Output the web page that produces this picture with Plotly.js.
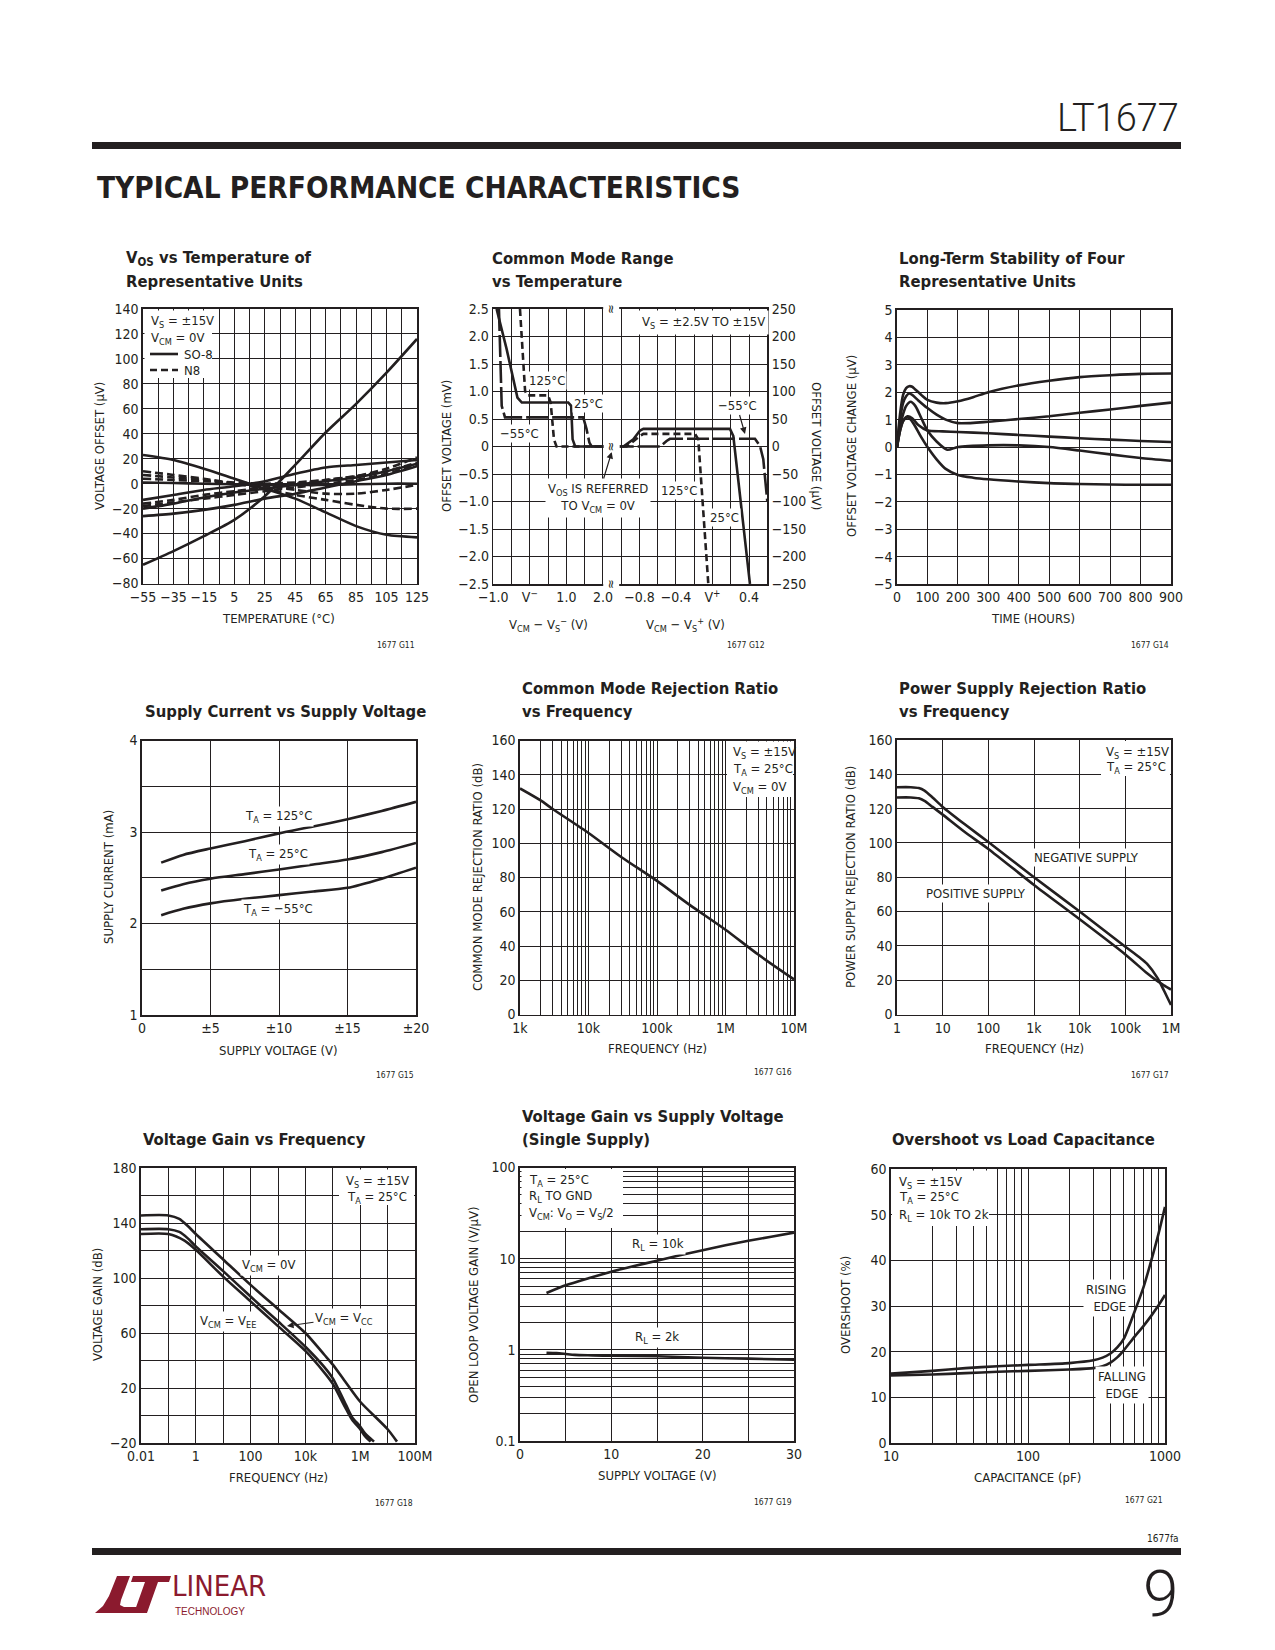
<!DOCTYPE html>
<html>
<head>
<meta charset="utf-8">
<script src="https://cdn.plot.ly/plotly-3.0.1.min.js"></script>
<style>html,body{margin:0;padding:0;background:#fff;}#page{width:1275px;height:1650px;}</style>
</head>
<body>
<div id="page"></div>
<script>
// ---------------- DATA ----------------
// Chart 1: VOS vs temperature (°C, µV)
const c1Temp = [-55,-35,-15,5,25,45,65,85,105,125];
const c1SO8_1 = [-65,-54,-42,-29,-10,15,41,64,89,116];
const c1SO8_2 = [23,19,12,4,-4,-12,-23,-34,-41,-43];
const c1SO8_3 = [-13,-9,-5,-2,2,8,13,15,17,19];
const c1SO8_4 = [-20,-16,-11,-7,-4,-1,2,5,10,16];
const c1SO8_5 = [-26,-24,-21,-17,-12,-8,-3,2,7,14];
const c1SO8_6 = [1,0.5,0,-0.5,-1,-1,-1,-0.5,0,0];
const c1N8_1 = [10,7,4,0,-4,-9,-13,-17,-20,-20];
const c1N8_2 = [7,5,3,0,-2,-5,-8,-8,-5,-1];
const c1N8_3 = [4,3,2,1,0,1,3,6,12,21];
const c1N8_4 = [-16,-13,-9,-6,-3,0,3,6,10,17];
const c1N8_5 = [-18,-15,-12,-9,-6,-3,0,3,8,15];
const c1XTicks = [-55,-35,-15,5,25,45,65,85,105,125];
const c1XText = ['−55','−35','−15','5','25','45','65','85','105','125'];
const c1YTicks = [-80,-60,-40,-20,0,20,40,60,80,100,120,140];
const c1YText = ['−80','−60','−40','−20','0','20','40','60','80','100','120','140'];

// Chart 2: common mode range (V, mV)
const c2L_125x = [-0.27,-0.13,-0.07,0.50,0.57,0.66,0.73,2.24];
const c2L_125y = [2.5,1.01,0.93,0.93,0.80,0.13,0,0];
const c2L_25x = [-0.91,-0.635,-0.34,-0.22,1.05,1.13,1.17,1.24,2.24];
const c2L_25y = [2.5,1.77,0.89,0.80,0.80,0.74,0.13,0,0];
const c2L_m55x = [-0.845,-0.77,-0.68,1.46,1.55,1.63,1.69,2.24];
const c2L_m55y = [2.5,0.74,0.53,0.53,0.32,0.07,0,0];
const c2R_25x = [-1.104,-0.976,-0.867,-0.794,-0.757,0.191,0.228,0.41];
const c2R_25y = [0,0,0.13,0.29,0.32,0.32,0.19,-2.5];
const c2R_125x = [-1.104,-0.94,-0.794,-0.757,-0.192,-0.156,-0.046];
const c2R_125y = [0,0,0.19,0.23,0.23,0.13,-2.5];
const c2R_m55x = [-1.104,-0.575,-0.503,-0.467,0.465,0.52,0.556,0.6];
const c2R_m55y = [0,0,0.10,0.14,0.14,0.01,-0.23,-1.0];
const c2YTicks = [-2.5,-2,-1.5,-1,-0.5,0,0.5,1,1.5,2,2.5];
const c2YText = ['−2.5','−2.0','−1.5','−1.0','−0.5','0','0.5','1.0','1.5','2.0','2.5'];
const c2Y2Text = ['−250','−200','−150','−100','−50','0','50','100','150','200','250'];
const c2XLTicks = [-1,0,1,2];
const c2XLText = ['−1.0','V<sup>−</sup>','1.0','2.0'];
const c2XRTicks = [-0.8,-0.4,0,0.4];
const c2XRText = ['−0.8','−0.4','V<sup>+</sup>','0.4'];

// Chart 3: long-term stability (hours, µV)
const c3T1 = [0,10,20,30,40,50,60,80,100,130,160,200,250,300,400,500,600,700,800,900];
const c3V1 = [0,1.2,1.9,2.15,2.22,2.2,2.1,1.9,1.72,1.62,1.6,1.67,1.82,2.0,2.25,2.42,2.55,2.62,2.67,2.68];
const c3T2 = [0,10,20,30,40,50,70,100,130,160,200,300,400,500,600,700,800,900];
const c3V2 = [0,1.0,1.6,1.85,1.95,1.9,1.7,1.42,1.18,1.0,0.87,0.92,1.02,1.12,1.25,1.37,1.5,1.62];
const c3T3 = [0,10,20,30,45,60,80,100,130,165,200,300,400,500,600,700,800,900];
const c3V3 = [0,0.7,1.2,1.5,1.65,1.5,1.05,0.6,0.2,-0.1,0.0,0.06,0.06,0.0,-0.13,-0.27,-0.4,-0.5];
const c3T4 = [0,10,20,35,50,70,100,150,200,300,400,500,600,700,800,900];
const c3V4 = [0,0.6,0.95,1.12,1.05,0.8,0.6,0.57,0.55,0.5,0.44,0.38,0.32,0.27,0.22,0.18];
const c3T5 = [0,10,20,33,45,60,80,100,130,160,200,250,300,400,500,600,700,800,900];
const c3V5 = [0,0.6,0.95,1.08,1.0,0.75,0.35,0.0,-0.45,-0.8,-1.02,-1.12,-1.18,-1.26,-1.32,-1.35,-1.37,-1.38,-1.38];
const c3YTicks = [-5,-4,-3,-2,-1,0,1,2,3,4,5];
const c3YText = ['−5','−4','−3','−2','−1','0','1','2','3','4','5'];

// Chart 4: supply current (V, mA)
const c4V = [1.4,3,5,7.5,10,12.5,15,17.5,20];
const c4I125 = [2.665,2.75,2.82,2.9,2.985,3.06,3.14,3.23,3.33];
const c4I25 = [2.36,2.43,2.49,2.54,2.59,2.645,2.70,2.78,2.88];
const c4Im55 = [2.09,2.16,2.22,2.27,2.31,2.35,2.39,2.49,2.61];
const c4XTicks = [0,5,10,15,20];
const c4XText = ['0','±5','±10','±15','±20'];
const c4YTicks = [1,2,3,4];
const c4YText = ['1','2','3','4'];

// Chart 5: CMRR (Hz, dB)
const c5F = [1e3,2e3,3e3,1e4,3e4,1e5,3e5,1e6,3e6,1e7];
const c5CMRR = [132,125,120,106,92,78,64,49.5,35,20.5];
const c5XTicks = [1e3,1e4,1e5,1e6,1e7];
const c5XText = ['1k','10k','100k','1M','10M'];

// Chart 6: PSRR (Hz, dB)
const c6FNeg = [1,2,3,4,6,10,30,100,1e3,1e4,1e5,2e5,3e5,5e5,7e5,1e6];
const c6Neg = [132.5,132.5,132,130.5,126.5,121,111,100.5,80,60,39.5,33.5,29.5,21.5,14,5.5];
const c6FPos = [1,2,3,4,6,10,30,100,1e3,1e4,1e5,3e5,5e5,7e5,1e6];
const c6Pos = [126.5,126.5,126,124.5,121,116.5,106.5,96.5,75.5,55.5,35,24,19.5,17,14.5];
const c6XTicks = [1,10,100,1e3,1e4,1e5,1e6];
const c6XText = ['1','10','100','1k','10k','100k','1M'];

// Chart 7: voltage gain vs frequency (Hz, dB)
const c7F0 = [0.01,0.1,0.25,0.5,1,10,100,1e3,1e4,5e4,1e5,3e5,1e6,1e7,2.2e7];
const c7G0 = [145.5,145.5,143,138,132,113.5,95,77.5,60,44,37,24,10,-10,-19];
const c7FCC = [0.01,0.1,0.25,0.5,1,10,100,1e3,1e4,5e4,1e5,3e5,5e5,1e6,1.5e6,3.2e6];
const c7GCC = [135.5,135.5,133.5,129,123,105,86.5,68.5,50,35,27,8,-1,-8,-13,-19];
const c7FEE = [0.01,0.1,0.4,1,10,100,1e3,1e4,5e4,1e5,3e5,5e5,1e6,1.5e6,2.4e6];
const c7GEE = [132,132,127,120.5,101,83,65,47,31,23,5,-3,-10,-15,-19];
const c7XTicks = [0.01,1,100,1e4,1e6,1e8];
const c7XText = ['0.01','1','100','10k','1M','100M'];
const c7YTicks = [-20,20,60,100,140,180];
const c7YText = ['−20','20','60','100','140','180'];

// Chart 8: open loop gain vs supply (V, V/µV)
const c8V10k = [2.9,5,7.5,10,12.5,15,17.5,20,22.5,25,27.5,30];
const c8G10k = [4.2,5.1,6.1,7.2,8.3,9.5,10.9,12.4,14.0,15.7,17.4,19.3];
const c8V2k = [2.9,4,5,6,8,10,15,20,25,30];
const c8G2k = [0.93,0.92,0.9,0.88,0.87,0.86,0.85,0.82,0.80,0.78];
const c8XTicks = [0,10,20,30];
const c8XText = ['0','10','20','30'];
const c8YTicks = [0.1,1,10,100];
const c8YText = ['0.1','1','10','100'];

// Chart 9: overshoot vs load capacitance (pF, %)
const c9C = [10,20,35,60,100,200,300,350,400,450,500,600,700,800,900,1000];
const c9Rise = [15.2,15.8,16.4,16.8,17.1,17.5,18.1,18.7,19.6,21.0,22.8,28.8,34.3,40.3,46,51.7];
const c9Fall = [14.8,15.0,15.3,15.6,15.8,16.1,16.4,16.8,17.6,18.8,20.3,23.3,25.7,28,30.2,32.4];
const c9XTicks = [10,100,1000];
const c9XText = ['10','100','1000'];

// ---------------- STYLE / LAYOUT ----------------
const W = 1275, H = 1650;
const INK = '#231f20';
const MAROON = '#8b1a2e';
const NARROW = '"Liberation Sans Narrow","Arial Narrow","Noto Sans Condensed","DejaVu Sans Condensed",sans-serif';
const LIGHT = '"Roboto Light",Roboto,"DejaVu Sans",sans-serif';
const px = x => x / W;
const py = y => 1 - y / H;
const dX = (a, b) => [a / W, b / W];
const dY = (top, bot) => [1 - bot / H, 1 - top / H];
const TICK = 14, LBL = 13;

function ax(domain, o) {
  return Object.assign({
    domain, showline: true, mirror: true, linecolor: INK, linewidth: 1.6,
    showgrid: true, gridcolor: INK, gridwidth: 1, zeroline: false, ticks: '', tickangle: 0,
    tickfont: {family: NARROW, size: TICK, color: INK}, fixedrange: true
  }, o);
}
function mg(o) { return Object.assign({showgrid: true, gridcolor: INK, gridwidth: 1, ticks: ''}, o); }

function ln(x, y, xa, ya, dash, shape) {
  return {type: 'scatter', mode: 'lines', x, y, xaxis: xa, yaxis: ya, hoverinfo: 'skip',
    line: {color: INK, width: 2.6, dash: dash || 'solid', shape: shape || 'spline', smoothing: 0.7}};
}
const DASH = '8px,4px';

const traces = [
  ln(c1Temp, c1SO8_1, 'x', 'y'), ln(c1Temp, c1SO8_2, 'x', 'y'), ln(c1Temp, c1SO8_3, 'x', 'y'),
  ln(c1Temp, c1SO8_4, 'x', 'y'), ln(c1Temp, c1SO8_5, 'x', 'y'), ln(c1Temp, c1SO8_6, 'x', 'y'),
  ln(c1Temp, c1N8_1, 'x', 'y', DASH), ln(c1Temp, c1N8_2, 'x', 'y', DASH), ln(c1Temp, c1N8_3, 'x', 'y', DASH),
  ln(c1Temp, c1N8_4, 'x', 'y', DASH), ln(c1Temp, c1N8_5, 'x', 'y', DASH),
  ln(c2L_25x, c2L_25y, 'x2', 'y2', 'solid', 'linear'),
  ln(c2L_125x, c2L_125y, 'x2', 'y2', '7px,4px', 'linear'),
  ln(c2L_m55x, c2L_m55y, 'x2', 'y2', '22px,4px', 'linear'),
  ln(c2R_25x, c2R_25y, 'x10', 'y10', 'solid', 'linear'),
  ln(c2R_125x, c2R_125y, 'x10', 'y10', '7px,4px', 'linear'),
  ln(c2R_m55x, c2R_m55y, 'x10', 'y10', '22px,4px', 'linear'),
  ln(c3T1, c3V1, 'x3', 'y3'), ln(c3T2, c3V2, 'x3', 'y3'), ln(c3T3, c3V3, 'x3', 'y3'),
  ln(c3T4, c3V4, 'x3', 'y3'), ln(c3T5, c3V5, 'x3', 'y3'),
  ln(c4V, c4I125, 'x4', 'y4'), ln(c4V, c4I25, 'x4', 'y4'), ln(c4V, c4Im55, 'x4', 'y4'),
  ln(c5F, c5CMRR, 'x5', 'y5'),
  ln(c6FNeg, c6Neg, 'x6', 'y6'), ln(c6FPos, c6Pos, 'x6', 'y6'),
  ln(c7F0, c7G0, 'x7', 'y7'), ln(c7FCC, c7GCC, 'x7', 'y7'), ln(c7FEE, c7GEE, 'x7', 'y7'),
  ln(c8V10k, c8G10k, 'x8', 'y8'), ln(c8V2k, c8G2k, 'x8', 'y8'),
  ln(c9C, c9Rise, 'x9', 'y9'), ln(c9C, c9Fall, 'x9', 'y9')
];

// ---------------- ANNOTATIONS ----------------
const ann = [];
function T(x, y, text, o) {
  o = o || {};
  const a = {xref: 'paper', yref: 'paper', x: px(x), y: py(y), text, showarrow: false,
    xanchor: o.xa || 'center', yanchor: o.ya || 'middle', align: o.align || 'center',
    font: {family: o.fam || NARROW, size: o.size || LBL, color: o.color || INK}};
  if (o.weight) a.font.weight = o.weight;
  if (o.angle !== undefined) a.textangle = o.angle;
  if (o.bg) { a.bgcolor = 'white'; a.borderpad = o.pad !== undefined ? o.pad : 1; }
  if (o.arrow) {
    a.showarrow = true; a.ax = o.arrow[0]; a.ay = o.arrow[1];
    a.arrowhead = 2; a.arrowsize = 1.1; a.arrowwidth = 1.2; a.arrowcolor = INK; a.standoff = 0;
    delete a.xanchor; delete a.yanchor;
  }
  ann.push(a);
}
const TS = 16.5;
function TITLE(x, y, text) { T(x, y, '<b>' + text + '</b>', {xa: 'left', size: TS}); }

// header / footer
T(1181, 118, 'LT1677', {xa: 'right', size: 38, fam: LIGHT, weight: 300});
T(95, 188, '<b>TYPICAL PERFORMANCE CHARACTERISTICS</b>', {xa: 'left', size: 29.5});
T(1181, 1538, '1677fa', {xa: 'right', size: 10});
T(1181, 1594, '9', {xa: 'right', size: 64, fam: LIGHT, weight: 300});
T(170, 1586, 'LINEAR', {xa: 'left', size: 29, color: MAROON});
T(173, 1611, 'TECHNOLOGY', {xa: 'left', size: 10, color: MAROON, fam: '"Liberation Sans",Arial,sans-serif'});

// titles
TITLE(124, 258, 'V<sub>OS</sub> vs Temperature of'); TITLE(124, 281, 'Representative Units');
TITLE(490, 258, 'Common Mode Range'); TITLE(490, 281, 'vs Temperature');
TITLE(897, 258, 'Long-Term Stability of Four'); TITLE(897, 281, 'Representative Units');
TITLE(143, 711, 'Supply Current vs Supply Voltage');
TITLE(520, 688, 'Common Mode Rejection Ratio'); TITLE(520, 711, 'vs Frequency');
TITLE(897, 688, 'Power Supply Rejection Ratio'); TITLE(897, 711, 'vs Frequency');
TITLE(141, 1139, 'Voltage Gain vs Frequency');
TITLE(520, 1116, 'Voltage Gain vs Supply Voltage'); TITLE(520, 1139, '(Single Supply)');
TITLE(890, 1139, 'Overshoot vs Load Capacitance');

// figure ids
const ID = {size: 8.5, xa: 'right'};
T(417, 645, '1677 G11', ID); T(767, 645, '1677 G12', ID); T(1171, 645, '1677 G14', ID);
T(416, 1075, '1677 G15', ID); T(794, 1072, '1677 G16', ID); T(1171, 1075, '1677 G17', ID);
T(415, 1503, '1677 G18', ID); T(794, 1502, '1677 G19', ID); T(1165, 1500, '1677 G21', ID);

// axis titles
T(278, 618, 'TEMPERATURE (°C)'); T(100, 446, 'VOLTAGE OFFSET (µV)', {angle: -90});
T(447, 446, 'OFFSET VOLTAGE (mV)', {angle: -90}); T(816, 446, 'OFFSET VOLTAGE (µV)', {angle: 90});
T(548, 625, 'V<sub>CM</sub> − V<sub>S</sub><sup>−</sup> (V)'); T(685, 625, 'V<sub>CM</sub> − V<sub>S</sub><sup>+</sup> (V)');
T(1033, 618, 'TIME (HOURS)'); T(852, 446, 'OFFSET VOLTAGE CHANGE (µV)', {angle: -90});
T(278, 1050, 'SUPPLY VOLTAGE (V)'); T(108, 877, 'SUPPLY CURRENT (mA)', {angle: -90});
T(657, 1048, 'FREQUENCY (Hz)'); T(477, 877, 'COMMON MODE REJECTION RATIO (dB)', {angle: -90});
T(1034, 1048, 'FREQUENCY (Hz)'); T(850, 877, 'POWER SUPPLY REJECTION RATIO (dB)', {angle: -90});
T(278, 1477, 'FREQUENCY (Hz)'); T(97, 1305, 'VOLTAGE GAIN (dB)', {angle: -90});
T(657, 1475, 'SUPPLY VOLTAGE (V)'); T(473, 1305, 'OPEN LOOP VOLTAGE GAIN (V/µV)', {angle: -90});
T(1027, 1477, 'CAPACITANCE (pF)'); T(845, 1305, 'OVERSHOOT (%)', {angle: -90});

// chart 1 legend
T(149, 321, 'V<sub>S</sub> = ±15V', {xa: 'left'});
T(149, 338, 'V<sub>CM</sub> = 0V', {xa: 'left'});
T(182, 354, 'SO-8', {xa: 'left'});
T(182, 370, 'N8', {xa: 'left'});

// chart 2 labels
T(703, 322, 'V<sub>S</sub> = ±2.5V TO ±15V', {bg: true, pad: 3});
T(611.7, 452, 'V<sub>OS</sub> IS REFERRED<br>TO V<sub>CM</sub> = 0V', {bg: true, pad: 2, arrow: [-14, 46]});
T(547, 380, '125°C', {bg: true});
T(588, 403, '25°C', {bg: true});
T(519, 433, '−55°C', {bg: true});
T(679, 490, '125°C', {bg: true});
T(724, 517, '25°C', {bg: true});
T(745, 434, '−55°C', {bg: true, arrow: [-8, -28]});
const BRK = {bg: true, angle: 90, size: 13, pad: 0};
T(611.7, 309, '≈', BRK); T(611.7, 584, '≈', BRK); T(611.7, 446.5, '≈', BRK);

// chart 4 labels
T(278, 816, 'T<sub>A</sub> = 125°C', {bg: true});
T(278, 854, 'T<sub>A</sub> = 25°C', {bg: true});
T(278, 909, 'T<sub>A</sub> = −55°C', {bg: true});

// chart 5 labels
T(731, 752, 'V<sub>S</sub> = ±15V', {xa: 'left'});
T(731, 769, 'T<sub>A</sub> = 25°C', {xa: 'left'});
T(731, 787, 'V<sub>CM</sub> = 0V', {xa: 'left'});

// chart 6 labels
T(1104, 752, 'V<sub>S</sub> = ±15V', {xa: 'left'});
T(1104, 767, 'T<sub>A</sub> = 25°C', {xa: 'left'});
T(1086, 857, 'NEGATIVE SUPPLY', {bg: true});
T(976, 893, 'POSITIVE SUPPLY', {bg: true});

// chart 7 labels
T(377, 1181, 'V<sub>S</sub> = ±15V');
T(377, 1197, 'T<sub>A</sub> = 25°C');
T(268, 1265, 'V<sub>CM</sub> = 0V', {bg: true});
T(228, 1321, 'V<sub>CM</sub> = V<sub>EE</sub>', {bg: true});
T(287, 1326, 'V<sub>CM</sub> = V<sub>CC</sub>', {bg: true, arrow: [57, -8]});

// chart 8 labels
T(527, 1180, 'T<sub>A</sub> = 25°C', {xa: 'left'});
T(527, 1196, 'R<sub>L</sub> TO GND', {xa: 'left'});
T(527, 1213, 'V<sub>CM</sub>: V<sub>O</sub> = V<sub>S</sub>/2', {xa: 'left'});
T(658, 1244, 'R<sub>L</sub> = 10k', {bg: true});
T(657, 1337, 'R<sub>L</sub> = 2k', {bg: true});

// chart 9 labels
T(897, 1182, 'V<sub>S</sub> = ±15V', {xa: 'left'});
T(897, 1197, 'T<sub>A</sub> = 25°C', {xa: 'left'});
T(897, 1215, 'R<sub>L</sub> = 10k TO 2k', {xa: 'left'});
T(1129, 1298, 'RISING<br>EDGE', {xa: 'right', align: 'right', bg: true, pad: 2});
T(1122, 1385, 'FALLING<br>EDGE', {bg: true, pad: 2});

// ---------------- SHAPES ----------------
const shapes = [];
function RECT(x0, y0, x1, y1, color) {
  shapes.push({type: 'rect', xref: 'paper', yref: 'paper', x0: px(x0), x1: px(x1), y0: py(y1), y1: py(y0),
    fillcolor: color, line: {width: 0}, layer: 'above'});
}
function SEG(x0, y0, x1, y1, dash) {
  shapes.push({type: 'line', xref: 'paper', yref: 'paper', x0: px(x0), x1: px(x1), y0: py(y0), y1: py(y1),
    line: {color: INK, width: 2.6, dash: dash || 'solid'}, layer: 'above'});
}
function POLY(pts, color) {
  const d = pts.map((p, i) => (i ? 'L' : 'M') + px(p[0]).toFixed(5) + ',' + py(p[1]).toFixed(5)).join(' ') + ' Z';
  shapes.push({type: 'path', xref: 'paper', yref: 'paper', path: d, fillcolor: color, line: {width: 0}, layer: 'above'});
}
RECT(92, 142, 1181, 149, INK);
RECT(92, 1548, 1181, 1555, INK);
RECT(144.5, 310.5, 212, 378, 'white');
SEG(150, 354, 178, 354);
SEG(150, 370, 178, 370, '7px,4px');
RECT(727, 741.5, 793, 797, 'white');
RECT(1101, 741, 1170, 776, 'white');
RECT(339, 1169.5, 414, 1205, 'white');
RECT(521.5, 1169, 623, 1228, 'white');
RECT(892, 1170.5, 989, 1226, 'white');
POLY([[95,1613],[103,1606],[109,1596],[113,1586],[117,1576],[130,1576],[121,1600],[120,1605],[124,1607],[139,1607],[137,1613]], MAROON);
POLY([[133,1576],[171,1576],[169,1582],[158,1582],[147,1613],[134,1613],[145,1582],[131,1582]], MAROON);

// ---------------- AXES ----------------
const layout = {
  width: W, height: H, margin: {l: 0, r: 0, t: 0, b: 0},
  paper_bgcolor: 'white', plot_bgcolor: 'rgba(0,0,0,0)', showlegend: false,
  font: {family: NARROW, color: INK}, annotations: ann, shapes: shapes,
  xaxis: ax(dX(143, 417), {anchor: 'y', range: [-55, 125], tickmode: 'array', tickvals: c1XTicks, ticktext: c1XText,
    minor: mg({tick0: -55, dtick: 10})}),
  yaxis: ax(dY(309, 583.5), {anchor: 'x', range: [-80, 140], tickmode: 'array', tickvals: c1YTicks, ticktext: c1YText}),
  xaxis2: ax(dX(493.3, 611.7), {anchor: 'y2', range: [-1, 2.24], tickmode: 'array', tickvals: c2XLTicks, ticktext: c2XLText,
    minor: mg({tick0: -1, dtick: 0.5})}),
  yaxis2: ax(dY(309, 584), {anchor: 'x2', mirror: false, range: [-2.5, 2.5], tickmode: 'array', tickvals: c2YTicks, ticktext: c2YText}),
  xaxis10: ax(dX(611.7, 767.3), {anchor: 'y10', range: [-1.104, 0.6], tickmode: 'array', tickvals: c2XRTicks, ticktext: c2XRText,
    minor: mg({tick0: 0, dtick: 0.2})}),
  yaxis10: ax(dY(309, 584), {anchor: 'x10', side: 'right', mirror: false, range: [-2.5, 2.5], tickmode: 'array', tickvals: c2YTicks, ticktext: c2Y2Text}),
  xaxis3: ax(dX(897, 1171), {anchor: 'y3', range: [0, 900], dtick: 100}),
  yaxis3: ax(dY(310, 584), {anchor: 'x3', range: [-5, 5], tickmode: 'array', tickvals: c3YTicks, ticktext: c3YText}),
  xaxis4: ax(dX(142, 416), {anchor: 'y4', range: [0, 20], tickmode: 'array', tickvals: c4XTicks, ticktext: c4XText}),
  yaxis4: ax(dY(740.5, 1015), {anchor: 'x4', range: [1, 4], tickmode: 'array', tickvals: c4YTicks, ticktext: c4YText,
    minor: mg({tick0: 1, dtick: 0.5})}),
  xaxis5: ax(dX(520, 794), {anchor: 'y5', type: 'log', range: [3, 7], tickmode: 'array', tickvals: c5XTicks, ticktext: c5XText,
    minor: mg({dtick: 'D1'})}),
  yaxis5: ax(dY(740.5, 1014.5), {anchor: 'x5', range: [0, 160], dtick: 20}),
  xaxis6: ax(dX(897, 1171), {anchor: 'y6', type: 'log', range: [0, 6], tickmode: 'array', tickvals: c6XTicks, ticktext: c6XText}),
  yaxis6: ax(dY(740, 1014.5), {anchor: 'x6', range: [0, 160], dtick: 20}),
  xaxis7: ax(dX(141, 415), {anchor: 'y7', type: 'log', range: [-2, 8], tickmode: 'array', tickvals: c7XTicks, ticktext: c7XText,
    minor: mg({dtick: 1})}),
  yaxis7: ax(dY(1168, 1443), {anchor: 'x7', range: [-20, 180], tickmode: 'array', tickvals: c7YTicks, ticktext: c7YText,
    minor: mg({tick0: -20, dtick: 20})}),
  xaxis8: ax(dX(520, 794), {anchor: 'y8', range: [0, 30], tickmode: 'array', tickvals: c8XTicks, ticktext: c8XText,
    minor: mg({tick0: 0, dtick: 5})}),
  yaxis8: ax(dY(1167.5, 1441), {anchor: 'x8', type: 'log', range: [-1, 2], tickmode: 'array', tickvals: c8YTicks, ticktext: c8YText,
    minor: mg({dtick: 'D1'})}),
  xaxis9: ax(dX(891, 1165), {anchor: 'y9', type: 'log', range: [1, 3], tickmode: 'array', tickvals: c9XTicks, ticktext: c9XText,
    minor: mg({dtick: 'D1'})}),
  yaxis9: ax(dY(1169, 1443), {anchor: 'x9', range: [0, 60], dtick: 10})
};

Plotly.newPlot('page', traces, layout, {displayModeBar: false, staticPlot: true});
</script>
</body>
</html>
